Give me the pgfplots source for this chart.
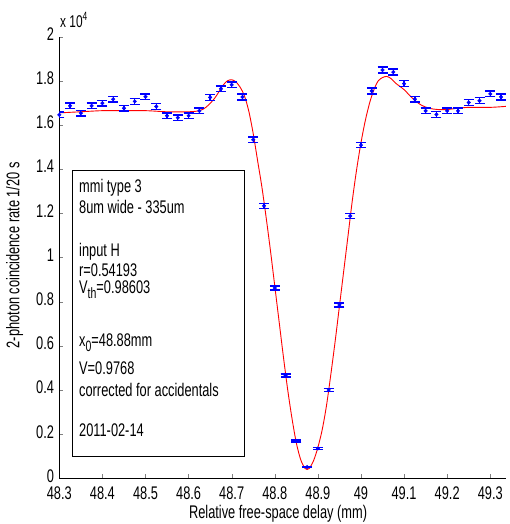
\documentclass[border=0pt]{standalone}
\usepackage{pgfplots}
\pgfplotsset{compat=1.18}
\usepackage{pgfplotstable}
\usepackage{fontspec}
\setmainfont{Liberation Sans}[FakeStretch=0.7]

% measured counts (x 10^4) with Poisson errors
\pgfplotstableread{
x      y      e
48.300 1.646 0.0128
48.325 1.687 0.0130
48.350 1.654 0.0129
48.375 1.687 0.0130
48.400 1.699 0.0130
48.425 1.717 0.0131
48.450 1.676 0.0129
48.475 1.707 0.0131
48.500 1.728 0.0131
48.525 1.684 0.0130
48.550 1.642 0.0128
48.575 1.633 0.0128
48.600 1.642 0.0128
48.625 1.664 0.0129
48.650 1.725 0.0131
48.675 1.764 0.0133
48.700 1.782 0.0133
48.725 1.727 0.0131
48.750 1.533 0.0124
48.775 1.234 0.0111
48.800 0.862 0.0093
48.825 0.466 0.0068
48.850 0.169 0.0041
48.875 0.051 0.0022
48.900 0.135 0.0037
48.925 0.400 0.0063
48.950 0.785 0.0089
48.975 1.188 0.0109
49.000 1.509 0.0123
49.025 1.754 0.0132
49.050 1.849 0.0136
49.075 1.840 0.0136
49.100 1.787 0.0134
49.125 1.717 0.0131
49.150 1.664 0.0129
49.175 1.648 0.0128
49.200 1.664 0.0129
49.225 1.664 0.0129
49.250 1.702 0.0130
49.275 1.710 0.0131
49.300 1.741 0.0132
49.325 1.727 0.0131
}\measured

% fitted curve
\pgfplotstableread{
x      y
48.300 1.655
48.350 1.660
48.400 1.665
48.450 1.665
48.500 1.665
48.550 1.660
48.600 1.660
48.625 1.665
48.640 1.680
48.660 1.720
48.680 1.780
48.690 1.800
48.700 1.805
48.710 1.795
48.720 1.770
48.730 1.730
48.740 1.660
48.750 1.560
48.760 1.440
48.770 1.320
48.780 1.180
48.790 1.030
48.800 0.870
48.810 0.710
48.820 0.550
48.830 0.400
48.840 0.270
48.850 0.160
48.860 0.085
48.870 0.045
48.875 0.040
48.880 0.045
48.890 0.080
48.900 0.140
48.910 0.220
48.920 0.330
48.930 0.470
48.940 0.620
48.950 0.780
48.960 0.940
48.970 1.100
48.980 1.260
48.990 1.400
49.000 1.520
49.010 1.620
49.020 1.700
49.030 1.760
49.040 1.800
49.050 1.815
49.060 1.820
49.070 1.810
49.080 1.790
49.100 1.760
49.120 1.720
49.140 1.690
49.160 1.675
49.180 1.670
49.200 1.670
49.220 1.675
49.250 1.680
49.300 1.680
49.340 1.685
}\fitcurve

\begin{document}
\begin{tikzpicture}
\begin{axis}[
  name=ax,
  scale only axis,
  width=446.5pt,
  height=441.6pt,
  xmin=48.3, xmax=49.336,
  ymin=0, ymax=2,
  axis x line*=bottom,
  axis y line*=left,
  tick align=inside,
  major tick length=4pt,
  xtick={48.3,48.4,48.5,48.6,48.7,48.8,48.9,49,49.1,49.2,49.3},
  ytick={0,0.2,0.4,0.6,0.8,1,1.2,1.4,1.6,1.8,2},
  scaled ticks=false,
  /pgf/number format/assume math mode=true,
  /pgf/number format/precision=2,
  tick label style={font=\fontsize{18.3}{20}\selectfont, inner sep=1pt, text depth=0pt},
  xticklabel style={yshift=-6.8pt},
  yticklabel style={xshift=-4.1pt, yshift=2.5pt},
  label style={font=\fontsize{18.3}{20}\selectfont},
  xlabel={Relative free-space delay (mm)},
  xlabel style={at={(axis description cs:0.49,-0.09)}, anchor=base},
  ylabel={2-photon coincidence rate 1/20 s},
  ylabel style={at={(axis description cs:-0.1,0.505)}, anchor=center},
  clip=true,
]
\addplot[red, line width=0.9pt, smooth] table[x=x, y=y] {\fitcurve};
\addplot[only marks, blue, mark=*, mark size=1.8pt,
  error bars/.cd, y dir=both, y explicit,
  error bar style={blue, line width=1.3pt},
  error mark options={rotate=90, mark size=5pt, blue, line width=1.3pt}]
  table[x=x, y=y, y error=e] {\measured};

\draw[black, line width=0.6pt] (axis cs:48.330,0.101) rectangle (axis cs:48.729,1.394);
\begin{scope}[every node/.style={anchor=base west, inner sep=0pt, font=\fontsize{18.3}{20}\selectfont}]
\node at (axis cs:48.3457,1.2925) {mmi type 3};
\node at (axis cs:48.3457,1.1973) {8um wide - 335um};
\node at (axis cs:48.3457,1.0036) {input H};
\node at (axis cs:48.3457,0.9161) {r=0.54193};
\node at (axis cs:48.3457,0.8376) {V\raisebox{-5pt}{\fontsize{15}{15}\selectfont th}=0.98603};
\node at (axis cs:48.3457,0.5955) {x\raisebox{-5pt}{\fontsize{15}{15}\selectfont 0}=48.88mm};
\node at (axis cs:48.3457,0.4703) {V=0.9768};
\node at (axis cs:48.3457,0.3719) {corrected for accidentals};
\node at (axis cs:48.3457,0.1873) {2011-02-14};
\end{scope}
\end{axis}
\node[anchor=base west, inner sep=0pt, font=\fontsize{17}{17}\selectfont]
  at ([xshift=0.7pt, yshift=8.7pt]ax.north west) {x 10\raisebox{7pt}{\fontsize{12}{12}\selectfont 4}};
\pgfresetboundingbox
\path ([xshift=-59.3pt, yshift=-45.7pt]ax.south west) rectangle ([xshift=449.7pt, yshift=478.3pt]ax.south west);
\end{tikzpicture}
\end{document}
